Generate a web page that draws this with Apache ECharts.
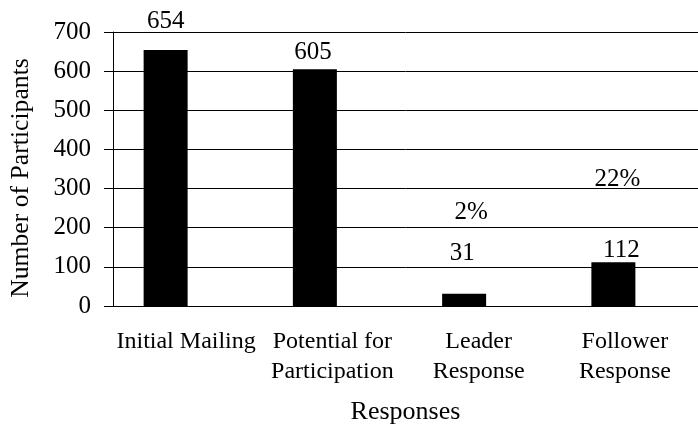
<!DOCTYPE html>
<html>
<head>
<meta charset="utf-8">
<script src="https://cdn.jsdelivr.net/npm/echarts@6/dist/echarts.min.js"></script>
<style>
html,body{margin:0;padding:0;background:#fff;}
#chart{width:698px;height:430px;}
</style>
</head>
<body>
<div id="chart"></div>
<script>
// ---- data ----
const categories = ['Initial Mailing', 'Potential for\nParticipation', 'Leader\nResponse', 'Follower\nResponse'];
const participants = [654, 605, 31, 112];
const responseRates = [null, null, '2%', '22%'];
const yMin = 0, yMax = 700, yStep = 100;
const yTitle = 'Number of Participants';
const xTitle = 'Responses';

// ---- label styling (kept apart from data) ----
const countLabelLift = [16.5, 4, 27.5, -1];
const countLabelShiftX = [0, -2, -2, 8];
const rateLabelLift = [0, 0, 68.5, 70.5];
const rateLabelShiftX = [0, 0, 7, 4];

const FONT = '"Liberation Serif", "Times New Roman", serif';
const NUM_SIZE = 25;
const TOP = 32, BOTTOM = 430 - 306;

const chart = echarts.init(document.getElementById('chart'), null, {renderer: 'canvas'});

const countData = participants.map((v, i) => ({
  value: v,
  label: {distance: countLabelLift[i], offset: [countLabelShiftX[i], 0]}
}));
const rateData = participants.map((v, i) => responseRates[i] == null ? '-' : ({
  value: v,
  label: {distance: rateLabelLift[i], offset: [rateLabelShiftX[i], 0]}
}));

chart.setOption({
  animation: false,
  backgroundColor: '#fff',
  grid: [
    {left: 113, right: 0, top: TOP, bottom: BOTTOM},
    {left: 91, width: 597, top: TOP, bottom: BOTTOM},
    {left: 113, width: 598, top: TOP, bottom: BOTTOM}
  ],
  xAxis: [
    {gridIndex: 0, type: 'category', data: [''],
     axisLine: {show: true, lineStyle: {color: '#000', width: 1}},
     axisTick: {show: false}, axisLabel: {show: false}},
    {gridIndex: 1, type: 'category', data: categories, show: false},
    {gridIndex: 2, type: 'category', data: categories,
     axisLine: {show: false}, axisTick: {show: false},
     axisLabel: {show: true, interval: 0, margin: 28, color: '#000',
       fontFamily: FONT, fontSize: 24, lineHeight: 29.5},
     name: xTitle, nameLocation: 'middle', nameGap: 100,
     nameTextStyle: {color: '#000', fontFamily: FONT, fontSize: 26}}
  ],
  yAxis: [
    {gridIndex: 0, type: 'value', min: yMin, max: yMax, interval: yStep,
     axisLine: {show: true, lineStyle: {color: '#000', width: 1}},
     axisTick: {show: true, inside: false, length: 9, lineStyle: {color: '#000'}},
     splitLine: {show: true, lineStyle: {color: '#000', width: 1}},
     axisLabel: {margin: 22, color: '#000', fontFamily: FONT, fontSize: NUM_SIZE},
     name: yTitle, nameLocation: 'middle', nameGap: 79, nameRotate: 90,
     nameTextStyle: {color: '#000', fontFamily: FONT, fontSize: 25.7, padding: [0, 18, 0, 0]}},
    {gridIndex: 1, type: 'value', min: yMin, max: yMax, interval: yStep, show: false},
    {gridIndex: 2, type: 'value', min: yMin, max: yMax, interval: yStep, show: false}
  ],
  series: [
    {type: 'bar', xAxisIndex: 1, yAxisIndex: 1, data: countData, barWidth: 44,
     itemStyle: {color: '#000'}, silent: true,
     label: {show: true, position: 'top', color: '#000', fontFamily: FONT, fontSize: NUM_SIZE}},
    {type: 'bar', xAxisIndex: 1, yAxisIndex: 1, data: rateData, barWidth: 44, barGap: '-100%',
     itemStyle: {color: 'rgba(0,0,0,0)'}, silent: true,
     label: {show: true, position: 'top', color: '#000', fontFamily: FONT, fontSize: NUM_SIZE,
       formatter: p => responseRates[p.dataIndex]}}
  ]
});
</script>
</body>
</html>
